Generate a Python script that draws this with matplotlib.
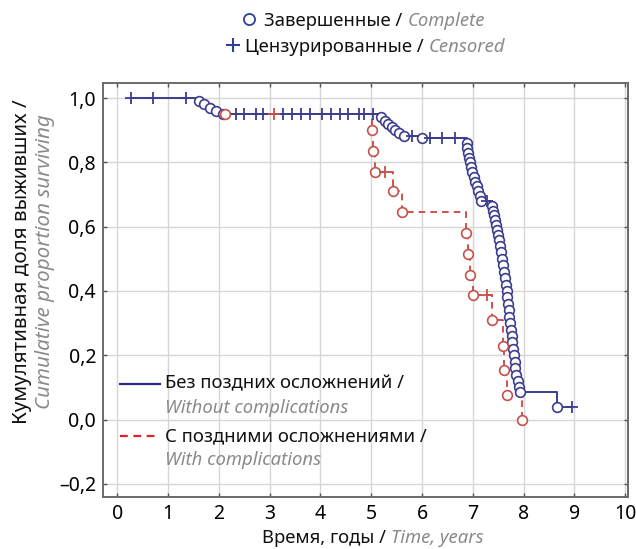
import numpy as np
import matplotlib
matplotlib.use("Agg")
import matplotlib.pyplot as plt
from matplotlib.lines import Line2D

plt.rcParams['font.family'] = ['Noto Sans', 'DejaVu Sans']

# -----------------------------
# Data
# -----------------------------
# group without late complications (blue)
blue_event_t = [1.60, 1.70, 1.82, 1.95, 2.08,
                5.20, 5.27, 5.33, 5.40, 5.47, 5.55, 5.65, 6.00,
                6.88, 6.89, 6.90, 6.92, 6.94, 6.96, 6.99, 7.02, 7.05, 7.08, 7.11, 7.14, 7.17,
                7.38, 7.40, 7.42, 7.44, 7.46, 7.48, 7.50, 7.52, 7.54, 7.56, 7.58, 7.60,
                7.62, 7.64, 7.66, 7.67, 7.68, 7.70, 7.71, 7.72, 7.74, 7.75, 7.77, 7.78,
                7.80, 7.82, 7.83, 7.84, 7.86, 7.88, 7.90, 7.92,
                8.65]
blue_event_s = [0.99, 0.98, 0.97, 0.96, 0.95,
                0.94, 0.93, 0.92, 0.91, 0.90, 0.89, 0.882, 0.875,
                0.86, 0.845, 0.83, 0.815, 0.80, 0.785, 0.77, 0.755, 0.74, 0.725, 0.71, 0.695, 0.68,
                0.665, 0.65, 0.635, 0.62, 0.605, 0.59, 0.575, 0.56, 0.54, 0.52, 0.50, 0.48,
                0.46, 0.44, 0.42, 0.40, 0.38, 0.36, 0.34, 0.32, 0.30, 0.28, 0.26, 0.24,
                0.22, 0.20, 0.18, 0.16, 0.14, 0.12, 0.10, 0.085,
                0.04]
blue_cens_t = [0.27, 0.70, 1.35,
               2.33, 2.49, 2.73, 2.86, 3.27, 3.45, 3.61, 3.80, 4.04, 4.20, 4.39, 4.55, 4.75, 4.85, 5.04,
               5.80, 6.16, 6.39, 6.65, 7.28, 8.96]
blue_cens_s = [1.0, 1.0, 1.0,
               0.95, 0.95, 0.95, 0.95, 0.95, 0.95, 0.95, 0.95, 0.95, 0.95, 0.95, 0.95, 0.95, 0.95, 0.95,
               0.882, 0.875, 0.875, 0.875, 0.68, 0.04]

# group with late complications (red)
red_event_t = [2.12, 5.02, 5.03, 5.07, 5.43, 5.60, 6.86, 6.90, 6.94, 7.00,
               7.38, 7.60, 7.62, 7.68, 7.96]
red_event_s = [0.95, 0.90, 0.835, 0.77, 0.71, 0.645, 0.58, 0.515, 0.45, 0.387,
               0.31, 0.23, 0.155, 0.076, 0.0]
red_cens_t = [3.08, 5.27, 7.27]
red_cens_s = [0.95, 0.77, 0.387]

x_ticks = [0, 1, 2, 3, 4, 5, 6, 7, 8, 9, 10]
y_ticks = [-0.2, 0.0, 0.2, 0.4, 0.6, 0.8, 1.0]
y_tick_labels = ["\u20130,2", "0,0", "0,2", "0,4", "0,6", "0,8", "1,0"]

BLUE = "#3d3d8f"
RED = "#cc3333"
GRAY_TXT = "#8a8a8a"
FS = 13.3      # legend / label text
FS_TICK = 14   # tick labels
FS_Y = 14.8    # y axis label


def step_path(et, es, ct, cs):
    # merge events and censored points into one ordered path
    t = np.array(list(et) + list(ct))
    s = np.array(list(es) + list(cs))
    order = np.argsort(t, kind="stable")
    return t[order], s[order]


def two_tone(x, y, first, second, size, **kw):
    # black russian part, then grey italic english part right after it
    t1 = fig.text(x, y, first, fontsize=size, ha="left", va="bottom",
                  color="#111111", **kw)
    fig.canvas.draw()
    bb = t1.get_window_extent()
    fig.text(bb.x1 / fig.bbox.width + 5 / 636, y, second, fontsize=size,
             ha="left", va="bottom", color=GRAY_TXT, style="italic", **kw)


fig = plt.figure(figsize=(6.36, 5.49), dpi=100)
ax = fig.add_axes([0.162, 0.095, 0.825, 0.754])

# grid + frame
ax.set_xlim(-0.28, 10.05)
ax.set_ylim(-0.24, 1.047)
ax.set_xticks(x_ticks)
ax.set_yticks(y_ticks)
ax.set_yticklabels(y_tick_labels)
ax.grid(True, color="#d6d6d6", linewidth=1.0)
ax.set_axisbelow(True)
for sp in ax.spines.values():
    sp.set_color("#6a6a6a")
    sp.set_linewidth(1.4)
ax.tick_params(direction="in", length=3, width=1, color="#555555",
               top=True, right=True, labelsize=FS_TICK, pad=5)
ax.tick_params(axis="x", pad=5)

# curves
rt, rs = step_path(red_event_t, red_event_s, red_cens_t, red_cens_s)
bt, bs = step_path(blue_event_t, blue_event_s, blue_cens_t, blue_cens_s)

ax.plot(rt, rs, drawstyle="steps-post", color=RED, lw=1.2,
        linestyle=(0, (4, 3)), zorder=2)
ax.plot(bt, bs, drawstyle="steps-post", color=BLUE, lw=1.4, zorder=3)

ax.plot(blue_event_t, blue_event_s, "o", ms=7, mfc="white", mec=BLUE,
        mew=1.2, zorder=4)
ax.plot(blue_cens_t, blue_cens_s, "+", ms=8, mec=BLUE, mew=1.3, zorder=4)
ax.plot(red_event_t, red_event_s, "o", ms=7, mfc="white", mec="#c8504a",
        mew=1.2, zorder=5)
ax.plot(red_cens_t, red_cens_s, "+", ms=8, mec="#c8504a", mew=1.3, zorder=5)

# inner legend (drawn by hand, no frame)
ax.add_line(Line2D([0.032, 0.109], [0.273, 0.273], transform=ax.transAxes,
                   color="#2b2b8c", lw=1.6))
ax.add_line(Line2D([0.032, 0.109], [0.147, 0.147], transform=ax.transAxes,
                   color="#e0202a", lw=1.6, linestyle=(0, (3.5, 2.5))))
ax.text(0.118, 0.273, "Без поздних осложнений /", transform=ax.transAxes,
        fontsize=FS, va="center", ha="left", color="#111111")
ax.text(0.118, 0.215, "Without complications", transform=ax.transAxes,
        fontsize=FS, va="center", ha="left", color=GRAY_TXT, style="italic")
ax.text(0.118, 0.147, "С поздними осложнениями /", transform=ax.transAxes,
        fontsize=FS, va="center", ha="left", color="#111111")
ax.text(0.118, 0.089, "With complications", transform=ax.transAxes,
        fontsize=FS, va="center", ha="left", color=GRAY_TXT, style="italic")

# top legend for markers
fig.add_artist(Line2D([249 / 636], [1 - 19 / 549], marker="o", ms=8,
                      mfc="white", mec="#2f3f9a", mew=1.3, transform=fig.transFigure))
fig.add_artist(Line2D([233 / 636], [1 - 45 / 549], marker="+", ms=10.5,
                      mec="#2f3f9a", mew=1.5, transform=fig.transFigure))
two_tone(264 / 636, 1 - 30 / 549, "Завершенные /", "Complete", FS)
two_tone(245 / 636, 1 - 56 / 549, "Цензурированные /", "Censored", FS)

# axis labels (two colours each)
two_tone(262 / 636, 2 / 549, "Время, годы /", "Time, years", FS)
fig.text(22 / 636, 1 - 262 / 549, "Кумулятивная доля выживших /",
         fontsize=FS_Y, rotation=90, ha="center", va="center", color="#111111")
fig.text(45 / 636, 1 - 262 / 549, "Cumulative proportion surviving",
         fontsize=FS_Y, rotation=90, ha="center", va="center", color=GRAY_TXT,
         style="italic")

plt.savefig("out.png", dpi=100)
